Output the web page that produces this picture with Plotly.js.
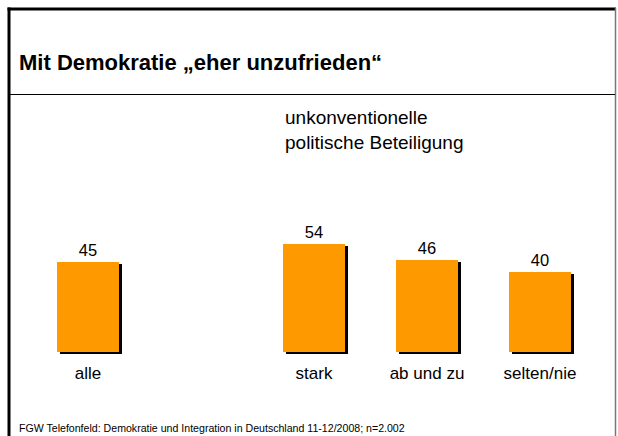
<!DOCTYPE html>
<html>
<head>
<meta charset="utf-8">
<script src="https://cdn.plot.ly/plotly-3.0.1.min.js"></script>
<style>html,body{margin:0;padding:0;background:#fff;}#chart{width:618px;height:436px;}</style>
</head>
<body>
<div id="chart"></div>
<script>
// Data
const categories = ['alle', 'stark', 'ab und zu', 'selten/nie'];
const values = [45, 54, 46, 40];
const valueLabels = ['45', '54', '46', '40'];
const titleText = 'Mit Demokratie „eher unzufrieden“';
const groupLabel = 'unkonventionelle<br>politische Beteiligung';
const sourceText = 'FGW Telefonfeld: Demokratie und Integration in Deutschland 11-12/2008; n=2.002';

// Layout helpers
const W = 618, H = 436;
const plotH = 358;                  // plot area height (top margin 0)
const x0px = 88, unitPx = 113;      // pixel of x=0, pixels per x unit
const xpos = categories.map((c, i) => i === 0 ? 0 : i + 1); // gap after "alle"
const barW = 62 / unitPx;
const shadowShift = 3 / unitPx;
const px = p => p / W;              // x pixel -> paper
const py = p => 1 - p / plotH;      // y pixel -> paper

const FONT = 'Liberation Sans, Arial, sans-serif';

const shadow = {
  type: 'bar', x: xpos, y: values, base: values.map(() => -1),
  width: barW, offset: -barW / 2 + shadowShift,
  marker: {color: '#000000'}, hoverinfo: 'skip', showlegend: false
};
const bars = {
  type: 'bar', x: xpos, y: values,
  width: barW, offset: -barW / 2,
  marker: {color: '#FF9900', line: {width: 0}},
  text: valueLabels, textposition: 'outside', cliponaxis: false,
  textfont: {family: FONT, size: 16.5, color: '#000'},
  showlegend: false
};

const layout = {
  width: W, height: H,
  margin: {l: 0, r: 0, t: 0, b: H - plotH, pad: 0},
  paper_bgcolor: '#fff', plot_bgcolor: 'rgba(0,0,0,0)',
  barmode: 'overlay',
  showlegend: false,
  title: {
    text: '<b>' + titleText + '</b>',
    x: 19 / W, xanchor: 'left', xref: 'container',
    y: 1 - 62 / H, yanchor: 'middle', yref: 'container',
    font: {family: FONT, size: 22, color: '#000'}
  },
  xaxis: {
    range: [-x0px / unitPx, (W - x0px) / unitPx],
    tickvals: xpos, ticktext: categories,
    showgrid: false, zeroline: false, showline: false, ticks: '',
    ticklabelstandoff: 3,
    tickfont: {family: FONT, size: 17, color: '#000'},
    fixedrange: true
  },
  yaxis: {
    range: [-3, plotH / 2 - 3],
    visible: false, showgrid: false, zeroline: false, fixedrange: true
  },
  annotations: [
    {text: groupLabel, xref: 'paper', yref: 'paper', x: px(283), y: py(105),
     xanchor: 'left', yanchor: 'top', align: 'left', showarrow: false,
     font: {family: FONT, size: 19, color: '#000'}},
    {text: sourceText, xref: 'paper', yref: 'paper', x: px(17), y: py(428),
     xanchor: 'left', yanchor: 'middle', align: 'left', showarrow: false,
     font: {family: FONT, size: 10.6, color: '#000'}}
  ],
  shapes: [
    {type: 'line', xref: 'paper', yref: 'paper', x0: px(7.5), x1: px(616), y0: py(9), y1: py(9), line: {color: '#000', width: 3}},
    {type: 'line', xref: 'paper', yref: 'paper', x0: px(9), x1: px(9), y0: py(7.5), y1: py(445), line: {color: '#000', width: 3}},
    {type: 'line', xref: 'paper', yref: 'paper', x0: px(615.5), x1: px(615.5), y0: py(8), y1: py(445), line: {color: '#777', width: 1.5}},
    {type: 'line', xref: 'paper', yref: 'paper', x0: px(9), x1: px(615), y0: py(94.5), y1: py(94.5), line: {color: '#000', width: 1}}
  ]
};

Plotly.newPlot('chart', [shadow, bars], layout, {displayModeBar: false, staticPlot: true});
</script>
</body>
</html>
